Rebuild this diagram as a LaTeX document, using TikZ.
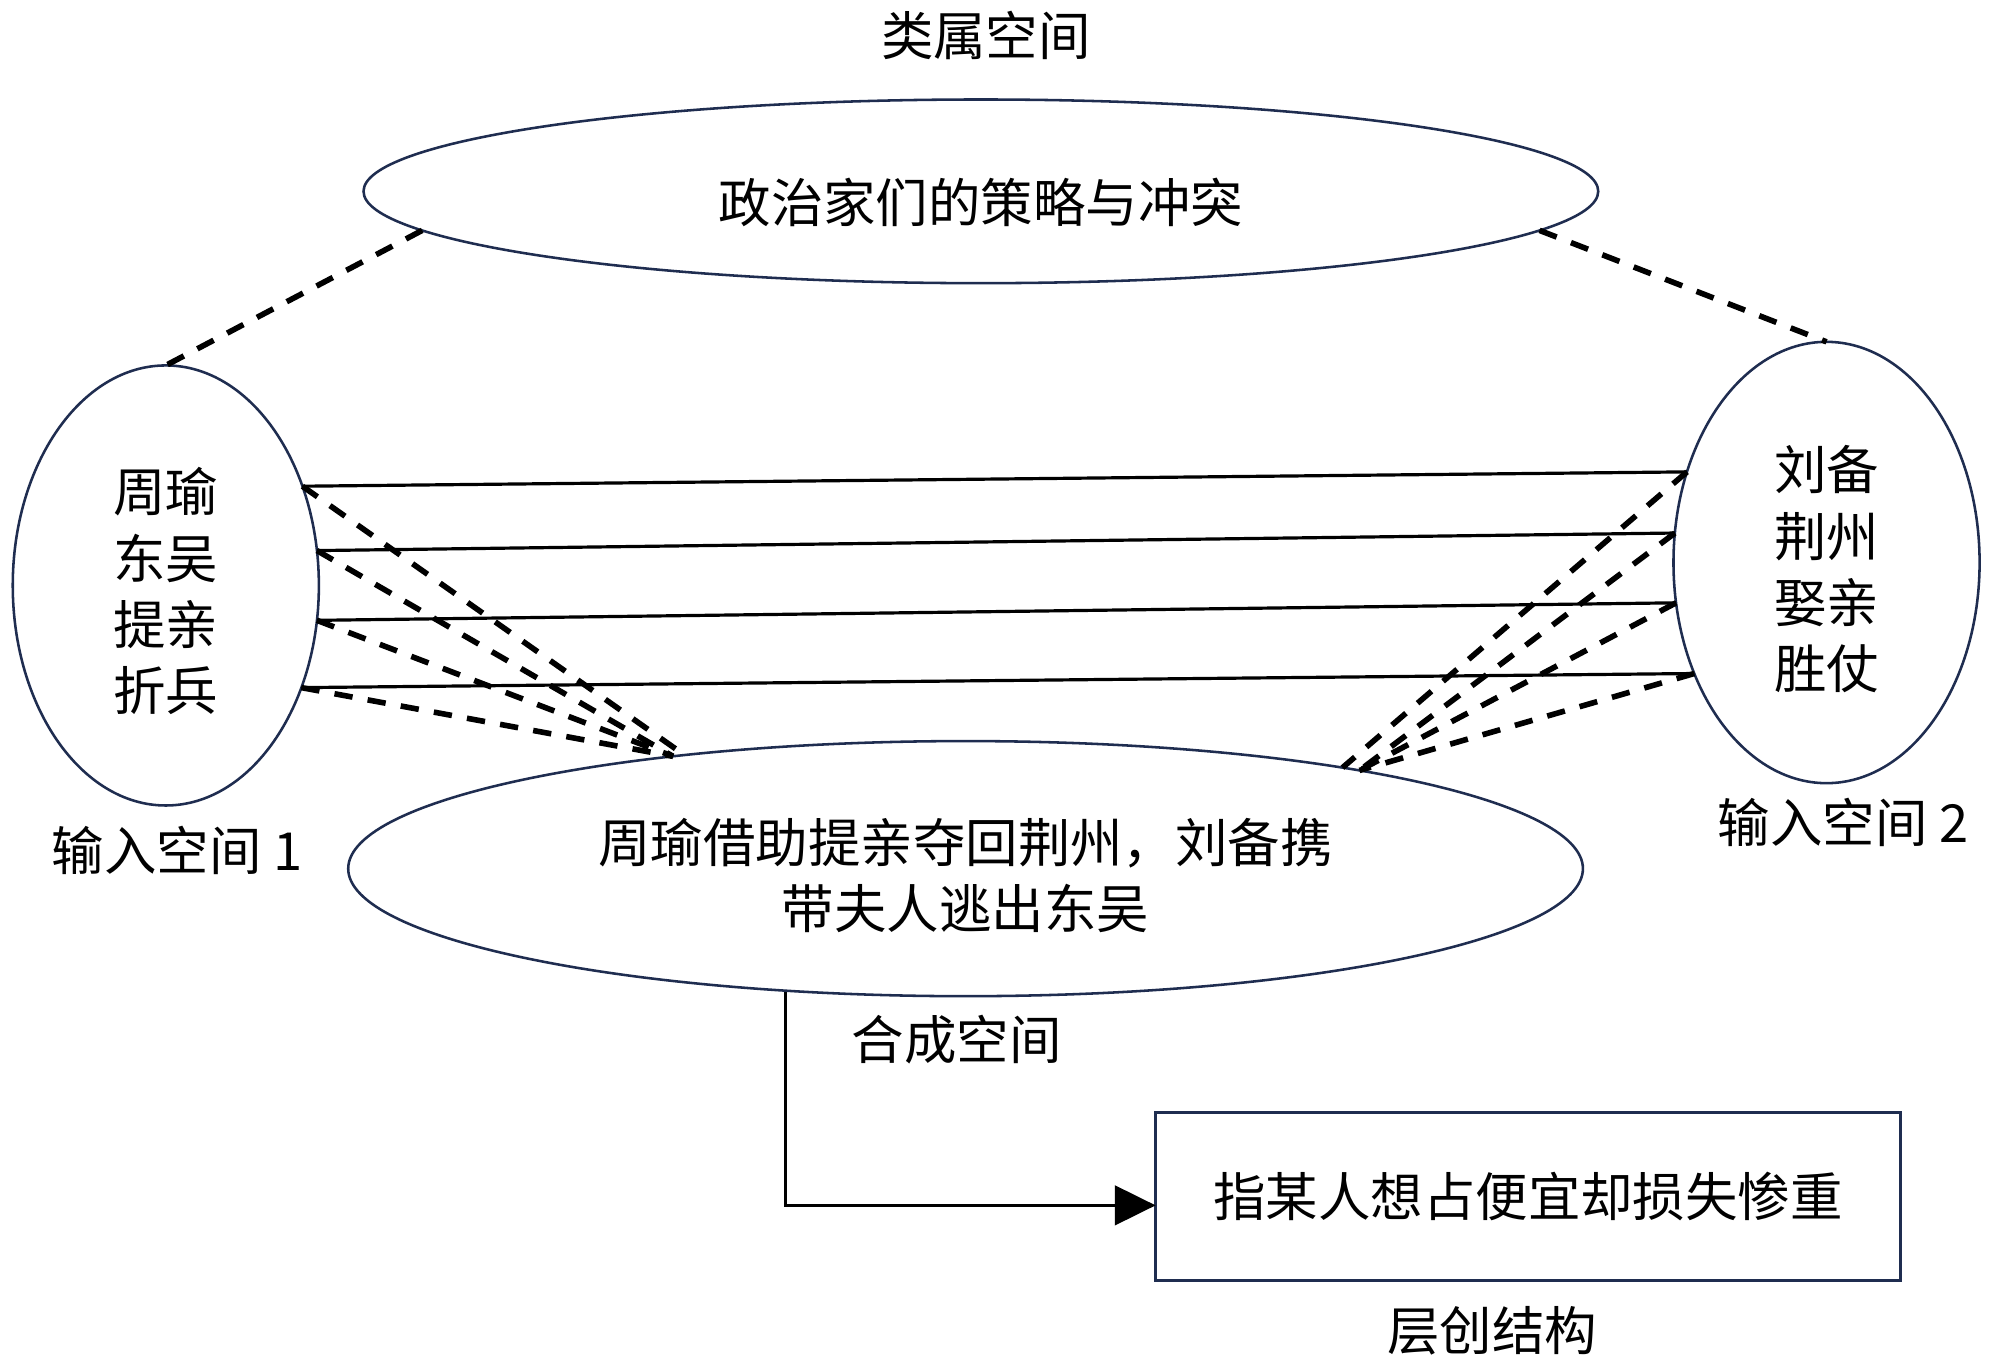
\documentclass[tikz,border=0pt]{standalone}
\usepackage{fontspec}
\newfontfamily\cjk{Noto Sans CJK SC}
\usetikzlibrary{shapes.geometric,arrows.meta}
\definecolor{navy}{RGB}{31,45,80}
\begin{document}
\begin{tikzpicture}[x=0.5mm,y=-0.5mm,
  every node/.style={font=\cjk\fontsize{58.5}{74}\selectfont, inner sep=0pt, outer sep=0pt},
  space/.style={ellipse, draw=navy, line width=1mm, align=center},
  link/.style={line width=1.25mm, black},
  dlink/.style={line width=2.2mm, black, dash pattern=on 7.2mm off 6mm},
  resultbox/.style={rectangle, draw=navy, line width=1.3mm, minimum width=292mm, minimum height=66mm},
  flow/.style={line width=1.2mm, black, -{Triangle[length=16mm,width=15.5mm]}}]
\useasboundingbox[fill=white] (0,0) rectangle (1568,1070);

% labels
\node (tgen) at (773,28) {类属空间};
\node (tin1) at (139,667) {输入空间 1};
\node (tin2) at (1445,645) {输入空间 2};
\node (tbl)  at (750,815) {合成空间};
\node (tem)  at (1170,1043) {层创结构};

% spaces
\node[space, minimum width=484mm, minimum height=72mm] (T) at (769,150) {\rule{0pt}{25.8mm}政治家们的策略与冲突};
\node[space, minimum width=120mm, minimum height=172.5mm] (L) at (130,459) {\rule{0pt}{21.8mm}周瑜\\东吴\\提亲\\折兵};
\node[space, minimum width=120mm, minimum height=173mm] (R) at (1432,441) {\rule{0pt}{22.8mm}刘备\\荆州\\娶亲\\胜仗};
\node[space, minimum width=484mm, minimum height=100mm] (B) at (757,681) {\rule{0pt}{22.8mm}周瑜借助提亲夺回荆州，刘备携\\带夫人逃出东吴};
\node[resultbox] (H) at (1198,938) {指某人想占便宜却损失惨重};

% generic links
\draw[dlink] (T.-176) -- (L.north);
\draw[dlink] (T.-4) -- (R.north);

% cross-space mappings
\draw[link] (L.36) -- (R.147);
\draw[link] (L.13) -- (R.169);
\draw[link] (L.-13) -- (R.-165);
\draw[link] (L.-37) -- (R.-140);

% projections to blend
\draw[dlink] (L.36) -- (B.158.6);
\draw[dlink] (L.13) -- (B.159);
\draw[dlink] (L.-13) -- (B.159.3);
\draw[dlink] (L.-37) -- (B.159.6);
\draw[dlink] (R.147) -- (B.15.1);
\draw[dlink] (R.169) -- (B.14.9);
\draw[dlink] (R.-165) -- (B.14.7);
\draw[dlink] (R.-140) -- (B.14.5);

% emergent structure
\coordinate (bstart) at (616,778);
\draw[flow] (bstart) |- ([yshift=-3.5mm]H.west);
\end{tikzpicture}
\end{document}
